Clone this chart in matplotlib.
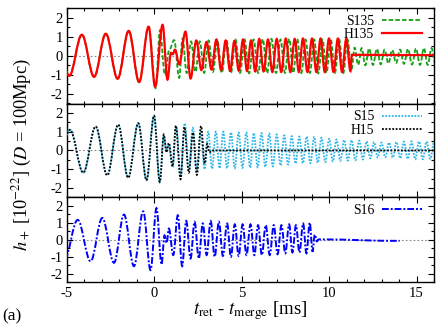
import matplotlib
matplotlib.use("Agg")
import matplotlib.pyplot as plt
from matplotlib.path import Path
from matplotlib.patches import PathPatch
from matplotlib.lines import Line2D
from matplotlib.ticker import MultipleLocator

plt.rcParams['font.family'] = ['Liberation Serif', 'DejaVu Serif']
plt.rcParams['mathtext.fontset'] = 'stix'

# ---------------- data: waveform extrema (time [ms], h_+ [1e-22]) ----------------
# Panel 1
h135_t = [-5.57, -4.87, -4.15, -3.45, -2.78, -2.10, -1.47, -0.87, -0.33, 0.04, 0.47, 0.75,
          0.95, 1.05, 1.18, 1.42, 1.78, 2.07, 2.40, 2.69, 2.98, 3.27, 3.55, 3.82, 4.08, 4.33,
          4.58, 4.83, 5.07, 5.30, 5.53, 5.77, 6.00, 6.25, 6.50, 6.75, 7.00, 7.26, 7.52, 7.78,
          8.03, 8.27, 8.50, 8.76, 9.02, 9.27, 9.51, 9.75, 9.99, 10.25, 10.50, 10.74, 10.98,
          11.22, 11.30, 16.00]
h135_h = [1.00, -1.05, 1.10, -1.10, 1.15, -1.20, 1.30, -1.38, 1.52, -1.62, 1.62, -1.25,
          0.15, 0.08, 0.32, -0.45, 1.26, -1.19, 0.80, -0.75, 0.72, -0.72, 0.85, -0.75, 0.80, -0.80,
          0.78, -0.78, 0.85, -0.80, 0.80, -0.82, 0.88, -0.82, 0.85, -0.85, 0.88, -0.85, 0.90, -0.85,
          0.88, -0.85, 0.90, -0.85, 0.90, -0.85, 0.90, -0.85, 0.90, -0.85, 0.90, -0.85, 0.88,
          -0.80, 0.05, 0.03]

s135_t = [-5.57, -4.87, -4.15, -3.45, -2.78, -2.10, -1.47, -0.87, -0.33, 0.07, 0.32, 0.60,
          0.85, 1.13, 1.42, 1.61, 1.85, 2.10, 2.35, 2.60, 2.85, 3.10, 3.35, 3.60, 3.86, 4.12,
          4.38, 4.64, 4.90, 5.16, 5.42, 5.68, 5.94, 6.20, 6.45, 6.70, 6.96, 7.22, 7.47, 7.72,
          7.95, 8.17, 8.41, 8.65, 8.90, 9.14, 9.38, 9.62, 9.85, 10.09, 10.33, 10.57, 10.81,
          11.05, 11.27, 11.46, 11.66, 11.86, 12.07, 12.29, 12.51, 12.73, 12.95, 13.17, 13.39,
          13.61, 13.83, 14.06, 14.28, 14.51, 14.74, 14.97, 15.20, 15.42, 15.64, 15.86, 16.08]
s135_h = [1.00, -1.05, 1.10, -1.10, 1.15, -1.20, 1.30, -1.38, 1.52, -1.70, 1.33, -1.00,
          0.30, 0.82, -1.16, 0.90, -0.90, 0.75, -0.85, 0.75, -0.90, 0.80, -0.85, 0.80, -0.90, 0.85,
          -0.90, 0.85, -0.90, 0.85, -0.92, 0.85, -0.90, 0.88, -0.92, 0.88, -0.90, 0.85, -0.90, 0.88,
          -0.90, 0.88, -0.90, 0.85, -0.90, 0.85, -0.92, 0.85, -0.90, 0.88, -0.90, 0.85, -0.90,
          0.85, -0.75, 0.42, -0.48, 0.40, -0.50, 0.38, -0.48, 0.36, -0.45, 0.32, -0.40,
          0.30, -0.38, 0.32, -0.42, 0.36, -0.46, 0.38, -0.48, 0.40, -0.48, 0.40, -0.46]

# Panel 2
h15_t = [-5.60, -4.83, -4.07, -3.36, -2.70, -2.07, -1.50, -0.92, -0.45, -0.02, 0.31, 0.54,
         0.69, 0.83, 1.04, 1.23, 1.50, 1.72, 1.97, 2.21, 2.43, 2.67, 2.88, 3.02, 3.15, 3.30, 16.00]
h15_h = [-1.00, 1.10, -1.18, 1.27, -1.32, 1.37, -1.45, 1.45, -1.58, 1.85, -1.68, 0.85,
         -0.10, 0.40, -0.85, 1.32, -1.53, 1.25, -1.18, 0.95, -1.30, 1.30, -0.70, 0.35, -0.10, 0.00, 0.00]

s15_t = [-5.60, -4.83, -4.07, -3.36, -2.70, -2.07, -1.50, -0.92, -0.45, -0.02, 0.31, 0.54,
         0.70, 0.83, 1.04, 1.25, 1.50, 1.74, 1.97, 2.20, 2.42, 2.65, 2.87, 3.08, 3.30, 3.52,
         3.73, 3.94, 4.16, 4.38, 4.60, 4.82, 5.04, 5.26, 5.48, 5.69, 5.91, 6.13, 6.35, 6.57,
         6.78, 7.00, 7.22, 7.43, 7.65, 7.86, 8.08, 8.29, 8.50, 8.71, 8.93, 9.14, 9.35, 9.56,
         9.78, 10.00, 10.21, 10.42, 10.64, 10.86, 11.07, 11.28, 11.50, 11.72, 11.93, 12.14,
         12.36, 12.57, 12.78, 12.99, 13.21, 13.43, 13.64, 13.85, 14.07, 14.28, 14.50, 14.71,
         14.93, 15.14, 15.36, 15.57, 15.79, 16.00]
s15_h = [-1.00, 1.10, -1.18, 1.27, -1.32, 1.37, -1.45, 1.45, -1.58, 1.85, -1.68, 0.75,
         0.00, 0.30, -0.90, 1.25, -1.35, 1.45, -1.10, 1.20, -1.05, 1.00, -1.00, 1.00, -0.97, 1.00,
         -0.95, 1.00, -0.95, 0.97, -0.95, 0.95, -0.93, 0.95, -0.92, 0.93, -0.90, 0.92, -0.88, 0.90,
         -0.85, 0.85, -0.80, 0.80, -0.75, 0.76, -0.70, 0.74, -0.68, 0.74, -0.68, 0.72, -0.65, 0.68,
         -0.62, 0.62, -0.58, 0.58, -0.55, 0.56, -0.54, 0.55, -0.52, 0.52, -0.48, 0.48,
         -0.42, 0.44, -0.38, 0.42, -0.36, 0.42, -0.38, 0.45, -0.42, 0.47, -0.45, 0.48,
         -0.47, 0.48, -0.47, 0.47, -0.45, 0.45]

# Panel 3
s16_t = [-5.15, -4.39, -3.65, -2.98, -2.31, -1.74, -1.17, -0.64, -0.22, 0.12, 0.41, 0.58,
         0.70, 0.83, 1.08, 1.34, 1.59, 1.82, 2.07, 2.30, 2.54, 2.77, 2.99, 3.22, 3.45, 3.69,
         3.92, 4.16, 4.38, 4.60, 4.82, 5.05, 5.27, 5.50, 5.72, 5.93, 6.15, 6.37, 6.60, 6.83,
         7.05, 7.27, 7.49, 7.71, 7.90, 8.10, 8.30, 8.51, 8.70, 8.89, 9.05, 9.18, 9.30, 9.40, 14.03]
s16_h = [-1.15, 1.16, -1.26, 1.27, -1.35, 1.47, -1.55, 1.66, -1.78, 1.85, -1.45, 0.25,
         -0.20, 0.65, -0.90, 1.43, -1.55, 1.10, -1.10, 1.05, -1.10, 0.95, -0.90, 1.10, -1.00, 1.05,
         -0.95, 0.95, -1.00, 0.90, -0.95, 0.90, -0.90, 0.90, -0.90, 0.85, -0.90, 0.85, -0.90, 0.85,
         -0.85, 0.85, -0.80, 0.90, -0.75, 0.85, -0.75, 0.95, -0.80, 1.00, -0.70, 0.30, -0.10, 0.02, -0.07]

x_ticks = [-5, 0, 5, 10, 15]
y_ticks = [-2, -1, 0, 1, 2]

# ---------------- styles ----------------
K = 0.3634  # cubic Bezier handle fraction for sinusoid-like arcs between extrema


def wave_path(t, h):
    verts = [(t[0], h[0])]
    codes = [Path.MOVETO]
    for i in range(len(t) - 1):
        dt = t[i + 1] - t[i]
        verts += [(t[i] + K * dt, h[i]), (t[i + 1] - K * dt, h[i + 1]), (t[i + 1], h[i + 1])]
        codes += [Path.CURVE4] * 3
    return Path(verts, codes)


fig = plt.figure(figsize=(4.43, 3.28), dpi=100)
L, W = 67 / 443, 367 / 443
positions = [(328 - 103.5) / 328, (328 - 197.4) / 328, (328 - 282.4) / 328]
heights = [95.5 / 328, 93.9 / 328, 85.4 / 328]
axes = [fig.add_axes([L, b, W, hh]) for b, hh in zip(positions, heights)]

series = [
    [(s135_t, s135_h, 'S135', dict(color='#16a016', lw=1.3, ls=(0, (2.5, 1.2)))),
     (h135_t, h135_h, 'H135', dict(color='#ff0000', lw=1.6, ls='-'))],
    [(s15_t, s15_h, 'S15', dict(color='#2ab6e6', lw=1.3, ls=(0, (1.0, 0.8)))),
     (h15_t, h15_h, 'H15', dict(color='#000000', lw=1.3, ls=(0, (1.0, 0.9))))],
    [(s16_t, s16_h, 'S16', dict(color='#0000ff', lw=1.4, ls=(0, (3.5, 1.0, 1.0, 1.0))))],
]

for ax, group in zip(axes, series):
    ax.axhline(0, color='#888888', lw=0.8, ls=(0, (1.5, 2)), zorder=1)
    handles = []
    for t, h, lab, st in group:
        patch = PathPatch(wave_path(t, h), fill=False, edgecolor=st['color'],
                          lw=st['lw'], linestyle=st['ls'], zorder=3)
        ax.add_patch(patch)
        handles.append(Line2D([], [], color=st['color'], lw=st['lw'], ls=st['ls']))
    ax.legend(handles, [g[2] for g in group], loc='upper right', frameon=False,
              markerfirst=False, fontsize=9.8, handlelength=2.9, handletextpad=0.6,
              labelspacing=0.02, borderaxespad=0.1, bbox_to_anchor=(0.985, 1.0))
    ax.set_xlim(-5, 16)
    ax.set_ylim(-2.5, 2.5)
    ax.xaxis.set_major_locator(MultipleLocator(5))
    ax.xaxis.set_minor_locator(MultipleLocator(1))
    ax.yaxis.set_major_locator(MultipleLocator(1))
    ax.yaxis.set_minor_locator(MultipleLocator(0.5))
    ax.tick_params(which='both', direction='in', top=True, right=True, width=0.8,
                   labelsize=10.5, pad=3)
    ax.tick_params(which='major', length=4)
    ax.tick_params(which='minor', length=2.5)
    for sp in ax.spines.values():
        sp.set_linewidth(1.0)
    ax.set_yticks(y_ticks)
    ax.set_yticklabels([str(v) for v in y_ticks])

for ax in axes[:2]:
    ax.tick_params(labelbottom=False)
axes[2].set_xticks(x_ticks)
axes[2].set_xticklabels([str(v) for v in x_ticks])

axes[2].set_xlabel(r'$t_{\rm ret}$ - $t_{\rm merge}$ [ms]', fontsize=13.5, labelpad=0)
fig.text(0.05, (328 - 155) / 328, r'$h_+$ [10$^{-22}$] ($D$ = 100Mpc)', rotation=90,
         ha='center', va='center', fontsize=13.2)
fig.text(0.006, (328 - 316) / 328, '(a)', ha='left', va='center', fontsize=12.5)

fig.savefig('out.png', dpi=100)
